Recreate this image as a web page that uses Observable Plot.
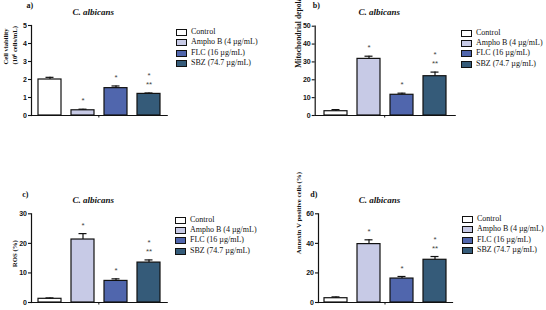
<!DOCTYPE html>
<html>
<head>
<meta charset="utf-8">
<script src="https://cdn.jsdelivr.net/npm/d3@7"></script>
<script src="https://cdn.jsdelivr.net/npm/@observablehq/plot@0.6"></script>
<style>
  body { margin: 0; background: #fff; }
  #fig { position: relative; width: 546px; height: 310px; overflow: hidden; background: #fff; }
  .panel { position: absolute; }
  .panel svg { overflow: visible; }
  .legend { position: absolute; font-family: "Liberation Serif", serif; font-size: 8px; color: #111; }
  .legend .row { position: absolute; left: 0; white-space: nowrap; height: 10px; line-height: 10px; }
  .legend .sw { position: absolute; left: 0; top: 2px; width: 9px; height: 5px; border: 1px solid #111; }
  .legend .lab { position: absolute; left: 15px; top: 0; }
</style>
</head>
<body>
<div id="fig"></div>
<script>
// Treatment groups shared by all four panels
const groups = ["Control", "Ampho B (4 µg/mL)", "FLC (16 µg/mL)", "SBZ (74.7 µg/mL)"];
const groupColors = ["#ffffff", "#c7cae6", "#5066ad", "#355b79"];
const sigLow = ["", "*", "*", "**"];
const sigHigh = ["", "", "", "*"];
const species = "C. albicans";

// a) Cell viability (10^6 cells/mL)
const viabilityMean = [2.0, 0.29, 1.52, 1.2];
const viabilityErr = [0.12, 0.06, 0.12, 0.05];
const viabilityTicks = [0, 1, 2, 3, 4, 5];

// b) Mitochondrial depolarization (%)
const depolMean = [2.4, 31.7, 11.6, 22.0];
const depolErr = [0.9, 1.5, 0.9, 2.3];
const depolTicks = [0, 10, 20, 30, 40, 50];

// c) ROS (%)
const rosMean = [1.25, 21.3, 7.3, 13.5];
const rosErr = [0.3, 2.0, 0.7, 0.9];
const rosTicks = [0, 10, 20, 30];

// d) Annexin V positive cells (%)
const annexinMean = [2.9, 39.5, 16.2, 28.9];
const annexinErr = [0.9, 2.9, 1.4, 2.2];
const annexinTicks = [0, 20, 40, 60];

const panels = [
  {tag: "a)", mean: viabilityMean, err: viabilityErr, ticks: viabilityTicks,
   yLabel: "Cell viability\n(10⁶ cells/mL)", labelSize: 6.6,
   left: 0, top: 0, mL: 31, mR: 106.3, mT: 25, mB: 40, pO: 0.17,
   titleDy: -13, tagDx: -5, tagDy: -20, labelDx: -22, labelDy: -6,
   legendLeft: 176, legendTop: 27},
  {tag: "b)", mean: depolMean, err: depolErr, ticks: depolTicks,
   yLabel: "Mitochondrial depolarization (%)", labelSize: 7.6,
   left: 273, top: 0, mL: 41.7, mR: 91.3, mT: 25.7, mB: 40, pO: 0.22,
   titleDy: -13.7, tagDx: -2.4, tagDy: -20.7, labelDx: -17.5, labelDy: -3,
   legendLeft: 461, legendTop: 27.5},
  {tag: "c)", mean: rosMean, err: rosErr, ticks: rosTicks,
   yLabel: "ROS (%)", labelSize: 6.8,
   left: 0, top: 155, mL: 31, mR: 106.3, mT: 58.3, mB: 8, pO: 0.17,
   titleDy: -14, tagDx: -9.3, tagDy: -19.3, labelDx: -17, labelDy: 9,
   legendLeft: 175, legendTop: 214.5},
  {tag: "d)", mean: annexinMean, err: annexinErr, ticks: annexinTicks,
   yLabel: "Annexin V positive cells (%)", labelSize: 6.8,
   left: 273, top: 155, mL: 45, mR: 94, mT: 58.3, mB: 8, pO: 0.13,
   titleDy: -14, tagDx: -8.3, tagDy: -19.3, labelDx: -20.5, labelDy: -4,
   legendLeft: 462, legendTop: 214}
];

const ink = "#111";

// Small centre tick under the x axis line
function midTick(index, scales, values, dims) {
  const cx = (dims.marginLeft + dims.width - dims.marginRight) / 2;
  const y0 = dims.height - dims.marginBottom;
  return d3.create("svg:line")
    .attr("x1", cx).attr("x2", cx).attr("y1", y0).attr("y2", y0 + 2.5)
    .attr("stroke", ink).attr("stroke-width", 1).node();
}

function drawPanel(cfg) {
  const data = groups.map((g, i) => ({
    group: g,
    mean: cfg.mean[i],
    top: cfg.mean[i] + cfg.err[i],
    low: sigLow[i],
    high: sigHigh[i]
  }));
  const chart = Plot.plot({
    width: 273,
    height: 155,
    marginLeft: cfg.mL,
    marginRight: cfg.mR,
    marginTop: cfg.mT,
    marginBottom: cfg.mB,
    style: {fontFamily: "Liberation Serif, serif", fontSize: "8px", background: "transparent", color: ink},
    x: {domain: groups, axis: null, paddingInner: 0.31, paddingOuter: cfg.pO},
    y: {domain: [0, cfg.ticks[cfg.ticks.length - 1]], axis: null},
    color: {domain: groups, range: groupColors},
    marks: [
      Plot.axisY({ticks: cfg.ticks, tickFormat: (d) => String(d), tickSize: 3, tickPadding: 1.5, label: null,
        fontFamily: "Liberation Sans, sans-serif", fontWeight: "bold", fontSize: 7,
        stroke: ink, strokeWidth: 1.1}),
      Plot.barY(data, {x: "group", y: "mean", fill: "group", stroke: ink, strokeWidth: 1.2}),
      Plot.ruleX(data, {x: "group", y1: "mean", y2: "top", stroke: ink, strokeWidth: 1.2}),
      Plot.tickY(data, {x: "group", y: "top", insetLeft: 7.5, insetRight: 7.5, stroke: ink, strokeWidth: 1.2}),
      Plot.frame({anchor: "left", stroke: ink, strokeWidth: 1.2}),
      Plot.frame({anchor: "bottom", stroke: ink, strokeWidth: 1.2}),
      midTick,
      Plot.text(data, {x: "group", y: "top", text: "low", dy: -8.5, fill: "#444",
        fontFamily: "Liberation Sans, sans-serif", fontSize: 8}),
      Plot.text(data, {x: "group", y: "top", text: "high", dy: -17.5, fill: "#444",
        fontFamily: "Liberation Sans, sans-serif", fontSize: 8}),
      Plot.text([species], {frameAnchor: "top", lineAnchor: "middle", dx: -6, dy: cfg.titleDy,
        fontWeight: "bold", fontStyle: "italic", fontSize: 9, fill: ink}),
      Plot.text([cfg.tag], {frameAnchor: "top-left", lineAnchor: "middle", textAnchor: "start",
        dx: cfg.tagDx, dy: cfg.tagDy, fontWeight: "bold", fontSize: 8, fill: ink}),
      Plot.text([cfg.yLabel], {frameAnchor: "left", lineAnchor: "middle", rotate: -90,
        dx: cfg.labelDx, dy: cfg.labelDy, fontWeight: "bold", fontSize: cfg.labelSize, lineHeight: 1.3, fill: ink})
    ]
  });
  const holder = document.createElement("div");
  holder.className = "panel";
  holder.style.left = cfg.left + "px";
  holder.style.top = cfg.top + "px";
  holder.appendChild(chart);
  document.getElementById("fig").appendChild(holder);

  // Legend of treatment groups
  const legend = document.createElement("div");
  legend.className = "legend";
  legend.style.left = cfg.legendLeft + "px";
  legend.style.top = cfg.legendTop + "px";
  groups.forEach((g, i) => {
    const row = document.createElement("div");
    row.className = "row";
    row.style.top = (i * 10.4) + "px";
    const sw = document.createElement("span");
    sw.className = "sw";
    sw.style.background = groupColors[i];
    const lab = document.createElement("span");
    lab.className = "lab";
    lab.textContent = g;
    row.appendChild(sw);
    row.appendChild(lab);
    legend.appendChild(row);
  });
  document.getElementById("fig").appendChild(legend);
}

panels.forEach(drawPanel);
</script>
</body>
</html>
